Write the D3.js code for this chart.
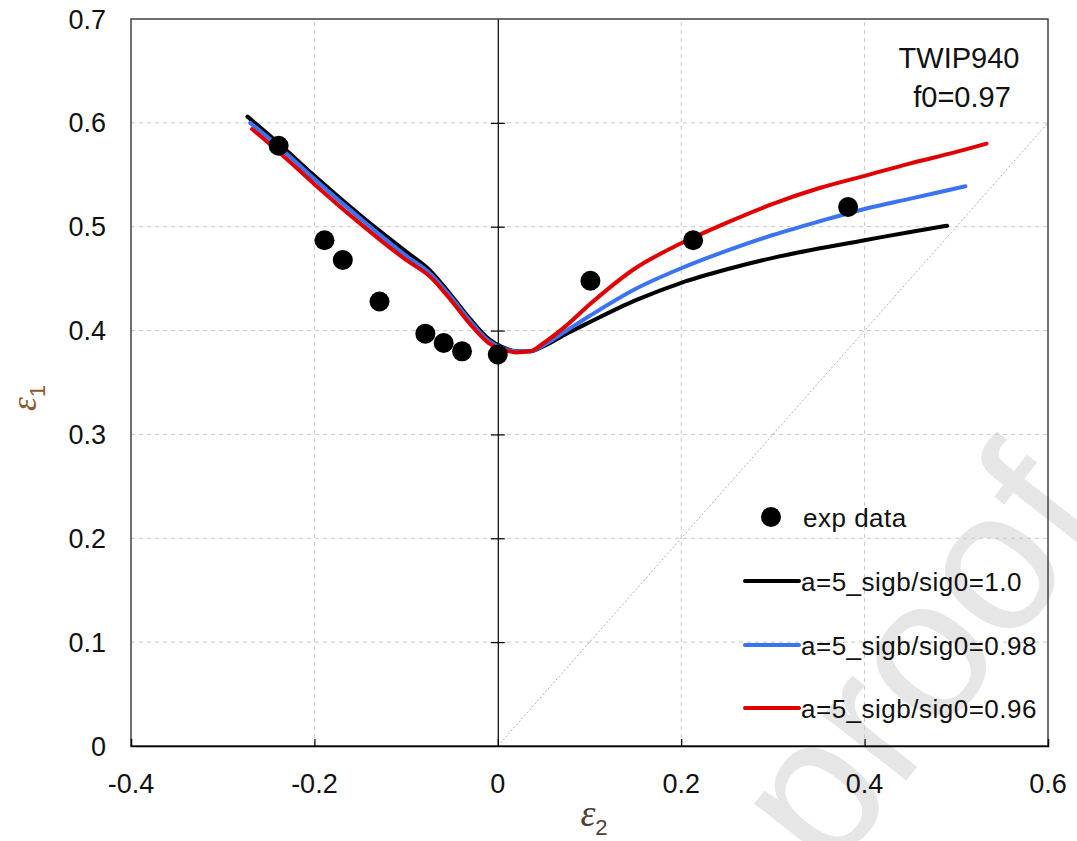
<!DOCTYPE html>
<html>
<head>
<meta charset="utf-8">
<script src="https://cdn.jsdelivr.net/npm/d3@7"></script>
<style>
  html, body { margin: 0; padding: 0; background: #fff; }
  svg { display: block; font-family: "Liberation Sans", Arial, sans-serif; }
</style>
</head>
<body>
<svg id="chart" width="1077" height="841"></svg>
<script>
// ---------- data ----------
const xTicks = [-0.4, -0.2, 0, 0.2, 0.4, 0.6];
const xTickLabels = ["-0.4", "-0.2", "0", "0.2", "0.4", "0.6"];
const yTicks = [0, 0.1, 0.2, 0.3, 0.4, 0.5, 0.6, 0.7];
const yTickLabels = ["0", "0.1", "0.2", "0.3", "0.4", "0.5", "0.6", "0.7"];

const expData = [
  [-0.239, 0.578], [-0.189, 0.487], [-0.169, 0.468], [-0.129, 0.428],
  [-0.079, 0.397], [-0.059, 0.388], [-0.039, 0.380], [0.0, 0.377],
  [0.101, 0.448], [0.213, 0.487], [0.382, 0.519]
];

const curveBlack = [
  [-0.273, 0.606], [-0.24, 0.581], [-0.2, 0.549], [-0.15, 0.511], [-0.1, 0.476],
  [-0.074, 0.458], [-0.05, 0.433], [-0.03, 0.411], [-0.01, 0.392], [0.005, 0.384],
  [0.02, 0.380], [0.035, 0.380], [0.05, 0.385], [0.075, 0.397], [0.1, 0.408],
  [0.15, 0.429], [0.2, 0.446], [0.25, 0.459], [0.3, 0.470], [0.35, 0.479],
  [0.4, 0.487], [0.45, 0.495], [0.49, 0.501]
];
const curveBlue = [
  [-0.27, 0.600], [-0.24, 0.578], [-0.2, 0.546], [-0.15, 0.508], [-0.1, 0.472],
  [-0.074, 0.455], [-0.05, 0.431], [-0.03, 0.409], [-0.01, 0.390], [0.005, 0.383],
  [0.02, 0.380], [0.035, 0.380], [0.05, 0.386], [0.075, 0.400], [0.1, 0.414],
  [0.15, 0.440], [0.2, 0.460], [0.25, 0.477], [0.3, 0.492], [0.35, 0.505],
  [0.4, 0.517], [0.45, 0.527], [0.51, 0.539]
];
const curveRed = [
  [-0.268, 0.594], [-0.24, 0.573], [-0.2, 0.541], [-0.15, 0.503], [-0.1, 0.468],
  [-0.074, 0.452], [-0.05, 0.428], [-0.03, 0.406], [-0.01, 0.388], [0.005, 0.382],
  [0.02, 0.379], [0.035, 0.380], [0.05, 0.388], [0.075, 0.405], [0.1, 0.425],
  [0.15, 0.460], [0.2, 0.484], [0.25, 0.504], [0.3, 0.522], [0.35, 0.537],
  [0.4, 0.549], [0.45, 0.561], [0.5, 0.572], [0.533, 0.580]
];

const seriesNames = ["a=5_sigb/sig0=1.0", "a=5_sigb/sig0=0.98", "a=5_sigb/sig0=0.96"];
const seriesColors = ["#000000", "#3b73f5", "#e00000"];
const seriesData = [curveBlack, curveBlue, curveRed];
const diagonal = [[0, 0], [0.6, 0.6]];

// ---------- layout ----------
const svg = d3.select("#chart");
const x = d3.scaleLinear().domain([-0.4, 0.6]).range([131, 1048]);
const y = d3.scaleLinear().domain([0, 0.7]).range([746, 19]);

// watermark
svg.append("text")
  .attr("transform", "translate(1110,520) rotate(-52)")
  .attr("text-anchor", "end")
  .attr("font-size", 200)
  .attr("fill", "#e6e6e6")
  .text("Journal Pre-proof");

// gridlines
const grid = svg.append("g");
grid.selectAll(".gx").data(xTicks.filter(t => t !== -0.4 && t !== 0.6 && t !== 0))
  .join("line")
  .attr("x1", d => x(d)).attr("x2", d => x(d))
  .attr("y1", y(0)).attr("y2", y(0.7))
  .attr("stroke", "#c8c8c8").attr("stroke-width", 1).attr("stroke-dasharray", "4,4");
grid.selectAll(".gy").data(yTicks.filter(t => t !== 0 && t !== 0.7))
  .join("line")
  .attr("x1", x(-0.4)).attr("x2", x(0.6))
  .attr("y1", d => y(d)).attr("y2", d => y(d))
  .attr("stroke", "#c8c8c8").attr("stroke-width", 1).attr("stroke-dasharray", "4,4");

// diagonal
svg.append("path")
  .attr("d", d3.line().x(d => x(d[0])).y(d => y(d[1]))(diagonal))
  .attr("stroke", "#b0b0b0").attr("stroke-width", 1).attr("stroke-dasharray", "2,2")
  .attr("fill", "none");

// frame
svg.append("rect")
  .attr("x", x(-0.4)).attr("y", y(0.7))
  .attr("width", x(0.6) - x(-0.4)).attr("height", y(0) - y(0.7))
  .attr("fill", "none").attr("stroke", "#404040").attr("stroke-width", 1.5);

// x axis at bottom (ticks upward)
const xAxis = d3.axisBottom(x).tickValues(xTicks.filter(t => t !== -0.4 && t !== 0.6))
  .tickSize(-7).tickFormat("");
const gx = svg.append("g").attr("transform", `translate(0,${y(0)})`).call(xAxis);
gx.select(".domain").attr("stroke", "#000").attr("stroke-width", 1.5);
gx.selectAll(".tick line").attr("stroke", "#000").attr("stroke-width", 1.2);

// y axis at x = 0 (crossing ticks)
const yAxis = d3.axisLeft(y).tickValues(yTicks.filter(t => t !== 0 && t !== 0.7))
  .tickSize(0).tickFormat("");
const gy = svg.append("g").attr("transform", `translate(${x(0)},0)`).call(yAxis);
gy.select(".domain").attr("stroke", "#000").attr("stroke-width", 1.2);
gy.selectAll(".tick").append("line")
  .attr("x1", -7).attr("x2", 7).attr("y1", 0).attr("y2", 0)
  .attr("stroke", "#000").attr("stroke-width", 1.2);

// tick labels
svg.append("g").selectAll("text").data(xTicks)
  .join("text")
  .attr("x", (d) => x(d)).attr("y", 793)
  .attr("text-anchor", "middle")
  .attr("font-size", 27).attr("fill", "#111")
  .text((d, i) => xTickLabels[i]);
svg.append("g").selectAll("text").data(yTicks)
  .join("text")
  .attr("x", 106).attr("y", d => y(d) + 9.5)
  .attr("text-anchor", "end")
  .attr("font-size", 27).attr("fill", "#111")
  .text((d, i) => yTickLabels[i]);

// axis titles
const eps1 = svg.append("text")
  .attr("transform", "translate(36,398) rotate(-90)")
  .attr("text-anchor", "middle")
  .attr("fill", "#8a5a30");
eps1.append("tspan").attr("font-family", "'Liberation Serif', serif").attr("font-style", "italic")
  .attr("font-size", 35).text("ε");
eps1.append("tspan").attr("font-size", 22).attr("dy", 9).text("1");

const eps2 = svg.append("text")
  .attr("x", 594).attr("y", 826)
  .attr("text-anchor", "middle")
  .attr("fill", "#504038");
eps2.append("tspan").attr("font-family", "'Liberation Serif', serif").attr("font-style", "italic")
  .attr("font-size", 38).text("ε");
eps2.append("tspan").attr("font-size", 22).attr("dy", 9).text("2");

// curves
const line = d3.line().x(d => x(d[0])).y(d => y(d[1])).curve(d3.curveMonotoneX);
svg.append("g").selectAll("path").data(seriesData)
  .join("path")
  .attr("d", d => line(d))
  .attr("fill", "none")
  .attr("stroke", (d, i) => seriesColors[i])
  .attr("stroke-width", 4)
  .attr("stroke-linecap", "round");

// exp points
svg.append("g").selectAll("circle").data(expData)
  .join("circle")
  .attr("cx", d => x(d[0])).attr("cy", d => y(d[1]))
  .attr("r", 10).attr("fill", "#000");

// annotation
const ann = svg.append("g").attr("font-size", 29).attr("fill", "#111").attr("text-anchor", "middle");
ann.append("text").attr("x", 959).attr("y", 68).text("TWIP940");
ann.append("text").attr("x", 962).attr("y", 107).text("f0=0.97");

// legend
const leg = svg.append("g").attr("font-size", 26).attr("letter-spacing", 0.5).attr("fill", "#111");
leg.append("circle").attr("cx", 771).attr("cy", 517).attr("r", 10).attr("fill", "#000");
leg.append("text").attr("x", 803).attr("y", 527).text("exp data");
const legY = [581, 645, 708];
seriesNames.forEach((name, i) => {
  leg.append("line").attr("x1", 745).attr("x2", 799)
    .attr("y1", legY[i]).attr("y2", legY[i])
    .attr("stroke", seriesColors[i]).attr("stroke-width", 4).attr("stroke-linecap", "round");
  leg.append("text").attr("x", 801).attr("y", legY[i] + 10).text(name);
});
</script>
</body>
</html>
